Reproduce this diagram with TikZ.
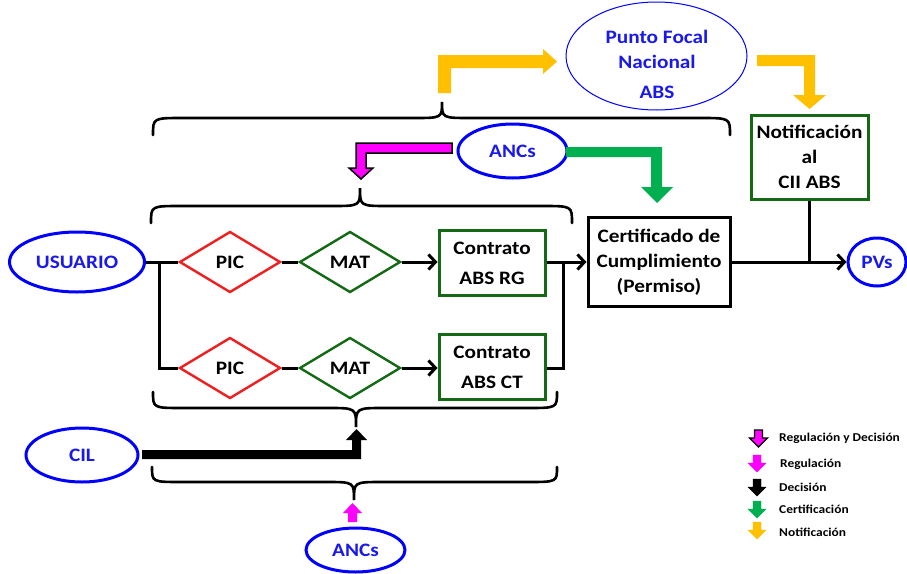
\documentclass[tikz,border=0pt]{standalone}
\usepackage{fontspec}
\setmainfont{Carlito}[FakeStretch=1.12]
\usetikzlibrary{shapes.geometric,arrows.meta}
\definecolor{eblue}{RGB}{0,0,255}
\definecolor{tblue}{RGB}{25,25,235}
\definecolor{dred}{RGB}{240,30,30}
\definecolor{dgreen}{RGB}{20,105,20}
\definecolor{ayellow}{RGB}{255,192,0}
\definecolor{agreen}{RGB}{0,176,80}
\definecolor{amag}{RGB}{255,0,255}
\newcommand\mybrace[6]{%
  \draw[brc] (#1,#3) .. controls (#1,#4) .. (#1+30,#4) -- (#5-28,#4)
    .. controls (#5,#4) .. (#5,#6) .. controls (#5,#4) .. (#5+28,#4)
    -- (#2-30,#4) .. controls (#2,#4) .. (#2,#3);}
\newcommand\legarr[3]{%
  \filldraw[#3] (#1-4,#2) -- (#1+4,#2) -- (#1+4,#2+8) -- (#1+9,#2+8) -- (#1,#2+17)
    -- (#1-9,#2+8) -- (#1-4,#2+8) -- cycle;}
\begin{document}
\begin{tikzpicture}[x=1pt,y=-1pt,
  every node/.style={font=\bfseries\fontsize{19}{25}\selectfont, align=center, inner sep=0pt},
  ell/.style={ellipse, draw=eblue, line width=3pt, text=tblue},
  dia/.style={diamond, line width=2.4pt, minimum width=101pt, minimum height=61pt},
  box/.style={rectangle, line width=3pt},
  conn/.style={line width=3pt},
  arr/.style={conn, -{Straight Barb[length=7pt,width=15pt]}},
  brc/.style={line width=2.6pt, line cap=round},
  leg/.style={anchor=west, font=\bfseries\fontsize{12}{14}\selectfont},
]
\useasboundingbox (0,0) rectangle (907,573);

% nodes
\node[ell, minimum width=135pt, minimum height=60pt] (usu) at (77,262) {USUARIO};
\node[dia, draw=dred] (pic1) at (230,262) {PIC};
\node[dia, draw=dgreen] (mat1) at (350,262) {MAT};
\node[box, draw=dgreen, minimum width=106pt, minimum height=65pt, font=\bfseries\fontsize{19}{30}\selectfont] (con1) at (492,263) {Contrato\\ABS RG};
\node[dia, draw=dred] (pic2) at (230,368) {PIC};
\node[dia, draw=dgreen] (mat2) at (350,368) {MAT};
\node[box, draw=dgreen, minimum width=106pt, minimum height=65pt, font=\bfseries\fontsize{19}{30}\selectfont] (con2) at (492,367) {Contrato\\ABS CT};
\node[box, draw=black, minimum width=142pt, minimum height=89pt] (cert) at (659,262) {Certificado de\\Cumplimiento\\(Permiso)};
\node[box, draw=dgreen, minimum width=117pt, minimum height=84pt] (notif) at (809.5,157) {Notificación\\al\\CII ABS};
\node[ell, minimum width=58pt, minimum height=48pt] (pvs) at (877,262) {PVs};
\node[ell, line width=1pt, minimum width=181pt, minimum height=108pt] (pfn) at (656.5,56) {};
\node[text=tblue] (pfnt) at (657,64) {Punto Focal\\Nacional\\[5pt]ABS};
\node[ell, minimum width=109pt, minimum height=54pt] (anc1) at (512.5,151) {ANCs};
\node[ell, minimum width=112pt, minimum height=54pt] (cil) at (82,455) {CIL};
\node[ell, minimum width=99pt, minimum height=44pt] (anc2) at (355.5,550) {ANCs};

% connectors
\coordinate (br) at (159,262);
\coordinate (mg) at (563,262);
\draw[conn] (usu.east) -- (pic1.west);
\draw[conn] (br) |- (pic2.west);
\draw[conn] (pic1.east) -- (mat1.west);
\draw[conn] (pic2.east) -- (mat2.west);
\draw[arr] (mat1.east) -- (con1.west |- mat1.east);
\draw[arr] (mat2.east) -- (con2.west |- mat2.east);
\draw[arr] (con1.east |- cert.west) -- (cert.west);
\draw[conn] (con2.east |- mat2.east) -| (mg);
\draw[arr] (cert.east) -- (pvs.west);
\draw[conn] (notif.south) -- (notif.south |- cert.east);

% braces
\mybrace{153}{730}{135}{118}{442}{102}
\mybrace{151}{572}{223}{206}{360}{188}
\mybrace{153}{557}{392}{408}{356}{427}
\mybrace{152}{557}{467}{482}{354}{500}

% block arrows
\fill[ayellow] (438,93) -- (438,55) -- (543,55) -- (543,49) -- (557,61.5) -- (543,74) -- (543,68) -- (451,68) -- (451,93) -- cycle;
\fill[ayellow] (757,55) -- (815,55) -- (815,95) -- (826,95) -- (809.5,109) -- (793,95) -- (804,95) -- (804,66) -- (757,66) -- cycle;
\filldraw[fill=amag, draw=black, line width=1.5pt] (452,143) -- (356,143) -- (356,168) -- (349,168) -- (361,179) -- (373,168) -- (366,168) -- (366,153) -- (452,153) -- cycle;
\fill[agreen] (566,147) -- (662,147) -- (662,187) -- (673,187) -- (657,203) -- (641,187) -- (651,187) -- (651,157) -- (566,157) -- cycle;
\fill[black] (142,450) -- (352,450) -- (352,440) -- (346,440) -- (356.5,429) -- (367,440) -- (361,440) -- (361,459) -- (142,459) -- cycle;
\fill[amag] (348,522) -- (348,513) -- (343,513) -- (352.5,503) -- (362,513) -- (357,513) -- (357,522) -- cycle;

% legend
\legarr{758.5}{430}{fill=amag, draw=black, line width=1.2pt}
\legarr{757}{455}{fill=amag, draw=amag}
\legarr{757}{479}{fill=black, draw=black}
\legarr{757}{501}{fill=agreen, draw=agreen}
\legarr{757}{522}{fill=ayellow, draw=ayellow}
\node[leg] (l1) at (779,438) {Regulación y Decisión};
\node[leg] (l2) at (780,464) {Regulación};
\node[leg] (l3) at (779,487) {Decisión};
\node[leg] (l4) at (779,509) {Certificación};
\node[leg] (l5) at (779,532) {Notificación};
\end{tikzpicture}
\end{document}
